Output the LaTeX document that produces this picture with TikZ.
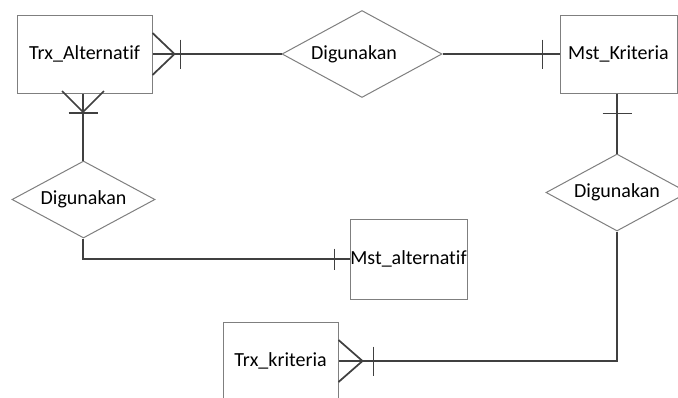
\documentclass[tikz,border=0pt]{standalone}
\usepackage{fontspec}
\setmainfont{Carlito}[Ligatures={NoCommon}]
\usetikzlibrary{shapes.geometric,calc}
\definecolor{boxgray}{HTML}{7F7F7F}
\definecolor{lnk}{HTML}{404040}
\begin{document}
\begin{tikzpicture}[x=0.75pt,y=-0.75pt,
  lbl/.style={font=\fontsize{15}{18}\selectfont,text=black},
  ent/.style={lbl,draw=boxgray,line width=0.75pt,rectangle,inner sep=0pt,fill=white},
  rel/.style={lbl,draw=boxgray,line width=0.75pt,diamond,aspect=2,inner sep=0pt,fill=white},
  conn/.style={draw=lnk,line width=1.3pt}]
\useasboundingbox (0,0) rectangle (678,397);
\clip (0,0) rectangle (678,397);
% entities
\node[ent,minimum width=101.25pt,minimum height=58.5pt] (TA) at (84.5,54) {Trx\_Alternatif};
\node[ent,minimum width=87.75pt,minimum height=58.5pt] (MK) at (618.5,54) {Mst\_Kriteria};
\node[ent,minimum width=87.75pt,minimum height=60pt] (MA) at (408.5,259) {Mst\_alternatif};
\node[ent,minimum width=86.25pt,minimum height=58.5pt] (TK) at (280.5,361) {Trx\_kriteria};
% relationships
\node[rel,minimum width=120pt,minimum height=65.25pt,
  label={[lbl,xshift=-6pt]center:Digunakan}] (D1) at (362,54) {};
\node[rel,minimum width=106.5pt,minimum height=57.75pt] (D2) at (617,192.5) {Digunakan};
\node[rel,minimum width=107.25pt,minimum height=57.75pt] (D3) at (83.5,199.5) {Digunakan};
% connectors
\draw[conn] (TA.east) -- (D1.west);
\draw[conn] ($(TA.east)+(0,-21)$) -- ($(TA.east)+(22,0)$) -- ($(TA.east)+(0,21)$);
\draw[conn] ($(TA.east)+(28,-14.5)$) -- ($(TA.east)+(28,14.5)$);
\draw[conn] (D1.east) -- (MK.west);
\draw[conn] ($(MK.west)+(-17,-14.5)$) -- ($(MK.west)+(-17,14.5)$);
\coordinate (mkb) at (D2.north |- MK.south);
\draw[conn] (mkb) -- (D2.north);
\draw[conn] ($(mkb)+(-14.5,20)$) -- ($(mkb)+(14.5,20)$);
\draw[conn] (D2.south) |- (TK.east);
\draw[conn] ($(TK.east)+(0,-21)$) -- ($(TK.east)+(24,0)$) -- ($(TK.east)+(0,21)$);
\draw[conn] ($(TK.east)+(35,-14.5)$) -- ($(TK.east)+(35,14.5)$);
\coordinate (tab) at (83,94);
\draw[conn] (tab) -- (D3.north -| tab);
\draw[conn] ($(tab)+(-21,-3)$) -- ($(tab)+(0,18)$) -- ($(tab)+(21,-3)$);
\draw[conn] ($(tab)+(-14.5,19)$) -- ($(tab)+(14.5,19)$);
\draw[conn] (D3.south -| tab) |- (MA.west);
\draw[conn] ($(MA.west)+(-15,-10.5)$) -- ($(MA.west)+(-15,10.5)$);
\end{tikzpicture}
\end{document}
